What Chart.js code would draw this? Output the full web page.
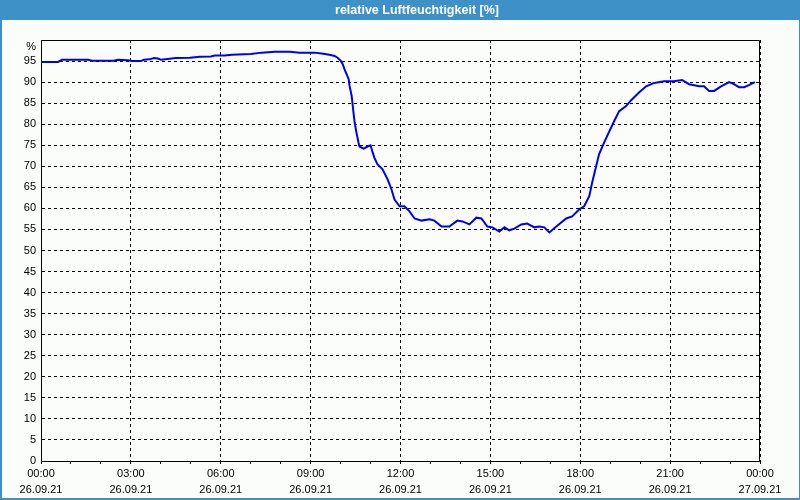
<!DOCTYPE html>
<html>
<head>
<meta charset="utf-8">
<script src="https://cdn.jsdelivr.net/npm/chart.js@4/dist/chart.umd.min.js"></script>
<style>
html,body{margin:0;padding:0;background:#fbfdfb;}
canvas{display:block;}
</style>
</head>
<body>
<canvas id="c" width="800" height="500"></canvas>
<script>
const chartTitle = 'relative Luftfeuchtigkeit [%]';
const hours = [0.0,0.57,0.7,1.57,1.7,2.43,2.57,2.9,3.03,3.33,3.43,3.63,3.77,3.9,4.0,4.23,4.5,4.97,5.3,5.67,5.8,6.13,6.37,7.0,7.37,7.8,8.3,8.63,9.13,9.37,9.63,9.8,9.9,10.0,10.07,10.13,10.2,10.27,10.3,10.37,10.4,10.43,10.47,10.53,10.6,10.63,10.77,10.9,11.0,11.07,11.13,11.23,11.4,11.57,11.7,11.8,11.97,12.13,12.3,12.47,12.7,12.97,13.13,13.37,13.63,13.9,14.07,14.3,14.53,14.7,14.9,15.07,15.3,15.47,15.63,15.8,16.03,16.23,16.47,16.63,16.8,16.97,17.2,17.53,17.73,17.97,18.13,18.3,18.4,18.53,18.63,18.8,18.97,19.13,19.3,19.53,19.7,19.97,20.2,20.47,20.8,21.13,21.4,21.63,21.97,22.13,22.3,22.47,22.7,22.97,23.13,23.3,23.47,23.63,23.83];
const humidity = [94.8,94.8,95.3,95.3,95.1,95.1,95.3,95.2,95.0,95.0,95.3,95.4,95.7,95.6,95.3,95.5,95.7,95.8,96.0,96.1,96.3,96.3,96.5,96.7,97.0,97.2,97.2,97.0,97.0,96.8,96.5,96.2,95.8,95.1,94.3,93.1,91.9,90.7,89.1,86.7,84.8,82.8,80.4,78.0,75.6,74.7,74.2,74.7,75.0,73.3,72.0,70.5,69.3,66.9,64.5,62.1,60.5,60.5,59.3,57.6,57.1,57.4,57.1,55.7,55.7,57.1,56.9,56.2,57.8,57.6,55.7,55.5,54.5,55.5,54.8,55.2,56.2,56.4,55.5,55.7,55.5,54.3,55.7,57.6,58.1,59.8,60.5,62.9,66.2,70.0,72.9,75.7,78.3,80.7,83.1,84.3,85.7,87.6,89.0,89.8,90.2,90.2,90.5,89.5,89.0,89.0,87.9,87.9,89.0,90.0,89.5,88.8,88.8,89.3,90.0];
const xTickTimes = ['00:00','03:00','06:00','09:00','12:00','15:00','18:00','21:00','00:00'];
const xTickDates = ['26.09.21','26.09.21','26.09.21','26.09.21','26.09.21','26.09.21','26.09.21','26.09.21','27.09.21'];
const yTopLabel = '%';

const points = hours.map((h, i) => ({x: h, y: humidity[i]}));

const frame = {
  id: 'frame',
  beforeDraw(chart) {
    const ctx = chart.ctx;
    ctx.save();
    ctx.fillStyle = '#fbfdfb';
    ctx.fillRect(0, 0, 800, 500);
    ctx.fillStyle = '#3d91c7';
    ctx.fillRect(0, 0, 800, 20);
    ctx.fillRect(0, 0, 2, 500);
    ctx.fillRect(799, 0, 1, 500);
    ctx.fillRect(0, 498, 800, 2);
    ctx.restore();
  },
  afterDraw(chart) {
    const a = chart.chartArea;
    const ctx = chart.ctx;
    ctx.save();
    ctx.strokeStyle = '#000';
    ctx.lineWidth = 1;
    ctx.setLineDash([]);
    ctx.beginPath();
    const l = Math.round(a.left) + 0.5, r = Math.round(a.right) - 0.5, t = Math.round(a.top) + 0.5, b = Math.round(a.bottom) + 0.5;
    ctx.moveTo(l, t); ctx.lineTo(r, t); ctx.lineTo(r, b);
    ctx.stroke();
    ctx.restore();
  }
};

new Chart(document.getElementById('c'), {
  type: 'line',
  data: {
    datasets: [{
      data: points,
      borderColor: '#0000f0',
      borderWidth: 2,
      pointRadius: 0,
      tension: 0,
      fill: false
    }]
  },
  options: {
    responsive: false,
    animation: false,
    devicePixelRatio: 1,
    layout: {padding: {left: 0, right: -34, top: 0, bottom: 0}},
    plugins: {
      legend: {display: false},
      tooltip: {enabled: false},
      title: {
        display: true,
        text: chartTitle,
        color: '#ffffff',
        font: {family: 'Liberation Sans', size: 12.5, weight: 'bold', lineHeight: 1.2},
        padding: {top: 3, bottom: 22}
      }
    },
    scales: {
      x: {
        type: 'linear',
        min: 0, max: 24,
        afterFit(s) { s.height = 39; },
        ticks: {
          stepSize: 1,
          autoSkip: false,
          maxRotation: 0,
          padding: 2,
          color: '#000',
          font: {family: 'Liberation Sans', size: 11, lineHeight: '16px'},
          callback(v) {
            if (v % 3 !== 0) return '';
            const i = v / 3;
            return [xTickTimes[i], xTickDates[i]];
          }
        },
        grid: {
          color: (c) => (c.tick && c.tick.value % 3 === 0) ? '#000' : 'rgba(0,0,0,0)',
          tickColor: '#000',
          tickLength: 3,
          lineWidth: 1
        },
        border: {display: true, color: '#000', width: 1, dash: [3, 3]}
      },
      y: {
        min: 0, max: 100,
        afterFit(s) { s.width = 41; },
        ticks: {
          stepSize: 5,
          autoSkip: false,
          padding: 5,
          color: '#000',
          font: {family: 'Liberation Sans', size: 11},
          callback(v) { return v === 100 ? ['', yTopLabel] : String(v); }
        },
        grid: {
          drawTicks: false,
          color: (c) => (c.tick && (c.tick.value === 0 || c.tick.value === 100)) ? 'rgba(0,0,0,0)' : '#000',
          lineWidth: 1
        },
        border: {display: true, color: '#000', width: 1, dash: [3, 3]}
      },
      yR: {
        type: 'linear',
        position: 'right',
        display: true,
        afterFit(s) { s.width = 74; },
        grid: {display: false, drawOnChartArea: false},
        border: {display: false},
        ticks: {display: false}
      }
    }
  },
  plugins: [frame]
});
</script>
</body>
</html>
